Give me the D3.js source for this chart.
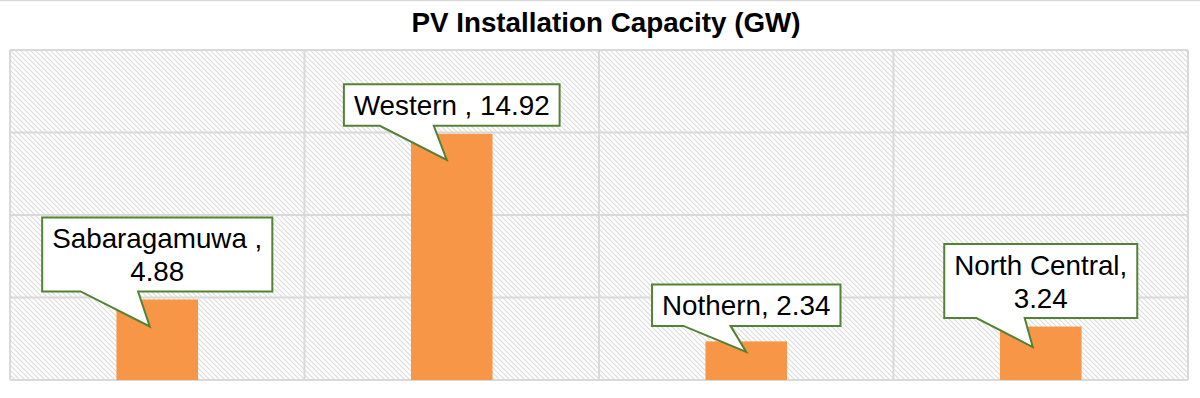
<!DOCTYPE html>
<html><head><meta charset="utf-8">
<script src="https://cdn.jsdelivr.net/npm/d3@7"></script>
<style>
html,body{margin:0;padding:0;background:#fff;}
svg{display:block;font-family:"Liberation Sans",Arial,sans-serif;}
</style></head>
<body>
<svg id="chart" width="1200" height="398"></svg>
<script>
const title = "PV Installation Capacity (GW)";
const categories = ["Sabaragamuwa ", "Western ", "Nothern", "North Central"];
const values = [4.88, 14.92, 2.34, 3.24];
const wrapLabel = [true, false, false, true];
const yTicks = [0, 5, 10, 15, 20];
// callout layout: gap between box bottom and bar top, tip offsets from bar centre / box bottom
const calloutGap = [8, 8, 15.5, 8.5];
const tipDx = [-7.5, -5, 0, -8];
const tipDy = [35, 34, 26, 29];

const W = 1200, H = 398;
const m = {l: 10, r: 12, t: 50, b: 18};
const svg = d3.select("#chart");

// pattern
const defs = svg.append("defs");
const pat = defs.append("pattern").attr("id","hatch").attr("patternUnits","userSpaceOnUse")
  .attr("width",5).attr("height",5);
pat.append("rect").attr("width",5).attr("height",5).attr("fill","#fff");
pat.append("path").attr("d","M-1,-1 L6,6 M-1,4 L1,6 M4,-1 L6,1")
  .attr("stroke","#dcdcdc").attr("stroke-width",1.1);

svg.append("line").attr("x1",0).attr("x2",W).attr("y1",0.5).attr("y2",0.5)
  .attr("stroke","#d9d9d9").attr("stroke-width",1.5);

const x = d3.scaleBand().domain(categories).range([m.l, W - m.r])
  .paddingInner(0.723).paddingOuter(0.3615);
const y = d3.scaleLinear().domain([0, 20]).range([H - m.b, m.t]);

svg.append("rect").attr("x", m.l).attr("y", m.t).attr("width", W - m.r - m.l)
  .attr("height", H - m.b - m.t).attr("fill","url(#hatch)");

// horizontal grid
svg.append("g").selectAll("line").data(yTicks).join("line")
  .attr("x1", m.l).attr("x2", W - m.r)
  .attr("y1", d => y(d)).attr("y2", d => y(d))
  .attr("stroke","#d9d9d9").attr("stroke-width",2);
// vertical grid at category boundaries
const step = x.step();
const bounds = d3.range(categories.length + 1).map(i => m.l + i * step);
svg.append("g").selectAll("line").data(bounds).join("line")
  .attr("x1", d => d).attr("x2", d => d)
  .attr("y1", m.t).attr("y2", H - m.b)
  .attr("stroke","#d9d9d9").attr("stroke-width",2);

// bars
svg.append("g").selectAll("rect").data(values).join("rect")
  .attr("x", (d,i) => x(categories[i]))
  .attr("width", x.bandwidth())
  .attr("y", d => y(d))
  .attr("height", d => y(0) - y(d))
  .attr("fill","#F79646");

// title
svg.append("text").attr("x", 606).attr("y", 32).attr("text-anchor","middle")
  .attr("font-size", 27.8).attr("font-weight","bold").attr("fill","#000").text(title);

// callouts
const fs = 27.8, lh = 32.5;
const cg = svg.append("g");
values.forEach((v, i) => {
  const name = categories[i];
  const val = v.toFixed(2);
  const lines = wrapLabel[i] ? [name + ",", val] : [name + ", " + val];
  const cx = x(name) + x.bandwidth() / 2;
  const g = cg.append("g");
  const path = g.append("path");
  const texts = lines.map(t => g.append("text").attr("x", cx).attr("text-anchor","middle")
    .attr("font-size", fs).attr("fill","#000").style("white-space","pre").attr("xml:space","preserve").text(t));
  const tw = d3.max(texts, t => t.node().getComputedTextLength());
  const bw = tw + 20;
  const bh = 9 + lh * lines.length;
  const bottom = y(v) - calloutGap[i];
  const top = bottom - bh;
  const left = cx - bw / 2, right = cx + bw / 2;
  texts.forEach((t, k) => t.attr("y", bottom - 10.5 - lh * (lines.length - 1 - k)));
  const bl = left + bw * 0.1667, br = left + bw * 0.4167;
  const tx = cx + tipDx[i], ty = bottom + tipDy[i];
  path.attr("d", `M${left},${top}H${right}V${bottom}H${br}L${tx},${ty}L${bl},${bottom}H${left}Z`)
    .attr("fill","#fff").attr("stroke","#548235").attr("stroke-width",2).attr("stroke-linejoin","miter");
  texts.forEach(t => t.raise());
});
</script>
</body></html>
